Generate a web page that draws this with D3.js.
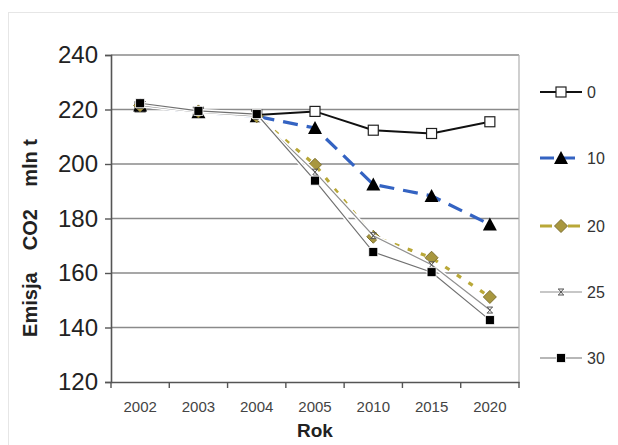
<!DOCTYPE html>
<html><head><meta charset="utf-8">
<script src="https://cdn.jsdelivr.net/npm/d3@7/dist/d3.min.js"></script>
<style>body{margin:0;background:#fff}svg{display:block;font-family:"Liberation Sans",Arial,sans-serif}</style>
</head><body><svg id="c" width="618" height="445"></svg>
<script>
const categories = ["2002","2003","2004","2005","2010","2015","2020"];
const seriesNames = ["0","10","20","25","30"];
const s0  = [221, 219, 218, 219.3, 212.4, 211.2, 215.5];
const s10 = [221.5, 219, 217.5, 213.2, 192.5, 188.3, 177.8];
const s20 = [221.5, 219.3, 217.5, 199.7, 173.3, 165.6, 151.2];
const s25 = [221.5, 219, 217.5, 197, 173.7, 163, 146.4];
const s30 = [222.3, 219.5, 218.3, 193.9, 167.7, 160.3, 142.7];
const yTicks = [120,140,160,180,200,220,240];

const svg = d3.select("#c");
const L=111, R=519, T=55, B=382;
const x = d3.scaleBand().domain(categories).range([L,R]);
const y = d3.scaleLinear().domain([120,240]).range([B,T]);

// outer frame
svg.append("rect").attr("x",8.5).attr("y",12.5).attr("width",640).attr("height",460)
  .attr("fill","none").attr("stroke","#e6e6e6");

// gridlines
svg.append("g").selectAll("line").data(yTicks.filter(d=>d>120)).join("line")
  .attr("x1",L).attr("x2",R).attr("y1",d=>y(d)).attr("y2",d=>y(d))
  .attr("stroke","#8a8a8a").attr("stroke-width",1.6);
// right border
svg.append("line").attr("x1",R).attr("x2",R).attr("y1",T).attr("y2",B)
  .attr("stroke","#b0b0b0").attr("stroke-width",1.2);

// y axis
const ya = svg.append("g").attr("transform",`translate(${L},0)`)
  .call(d3.axisLeft(y).tickValues(yTicks).tickSize(6).tickPadding(7));
ya.select(".domain").attr("stroke","#555").attr("stroke-width",1.6);
ya.selectAll(".tick line").attr("stroke","#555").attr("stroke-width",1.4);
ya.selectAll("text").attr("font-size",24).attr("fill","#222").attr("font-family","Liberation Sans, Arial, sans-serif");

// x axis
const xa = svg.append("g").attr("transform",`translate(0,${B})`)
  .call(d3.axisBottom(x).tickSize(0).tickPadding(19));
xa.select(".domain").attr("stroke","#555").attr("stroke-width",1.6);
xa.selectAll("text").attr("font-size",15).attr("fill","#444").attr("font-family","Liberation Sans, Arial, sans-serif");
svg.append("g").selectAll("line").data(categories.map((c,i)=>i).concat([categories.length])).join("line")
  .attr("x1",i=>L+i*x.step()).attr("x2",i=>L+i*x.step()).attr("y1",B).attr("y2",B+6)
  .attr("stroke","#555").attr("stroke-width",1.4);

// titles
svg.append("text").attr("x",315).attr("y",437).attr("text-anchor","middle")
  .attr("font-size",19).attr("font-weight","bold").attr("fill","#222").text("Rok");
svg.append("text").attr("transform","translate(37,238) rotate(-90)").attr("text-anchor","middle")
  .attr("font-size",20).attr("font-weight","bold").attr("fill","#222")
  .text("Emisja\u00a0\u00a0\u00a0\u00a0CO2\u00a0\u00a0\u00a0\u00a0mln t");

const styles = [
  {data:s0, color:"#111", w:2, dash:null, casing:false, marker:"wsquare"},
  {data:s10, color:"#3463c2", w:3.2, dash:"15,9", casing:false, marker:"triangle"},
  {data:s20, color:"#b9a838", w:3.2, dash:"5,9", casing:false, marker:"diamond"},
  {data:s25, color:"#8f8f8f", w:1.2, dash:null, casing:true, marker:"x"},
  {data:s30, color:"#707070", w:1.2, dash:null, casing:true, marker:"bsquare"}
];
const cx = c => x(c)+x.bandwidth()/2;
const line = d3.line().x((d,i)=>cx(categories[i])).y(d=>y(d));

function drawMarker(g, type, px, py){
  if(type==="wsquare") g.append("rect").attr("x",px-5).attr("y",py-5).attr("width",10).attr("height",10)
    .attr("fill","#fff").attr("stroke","#222").attr("stroke-width",1.2);
  else if(type==="triangle") g.append("path").attr("d",`M${px},${py-7}L${px+7},${py+6}L${px-7},${py+6}Z`).attr("fill","#000");
  else if(type==="diamond") g.append("path").attr("d",`M${px},${py-6.5}L${px+6.5},${py}L${px},${py+6.5}L${px-6.5},${py}Z`)
    .attr("fill","#a8973f").attr("stroke","#7d7030").attr("stroke-width",1);
  else if(type==="x") { g.append("path").attr("d",`M${px-2.5},${py-3}L${px+2.5},${py+3}M${px+2.5},${py-3}L${px-2.5},${py+3}M${px-3},${py-3}L${px+3},${py-3}M${px-3},${py+3}L${px+3},${py+3}`)
    .attr("stroke","#555").attr("stroke-width",1).attr("fill","none"); }
  else if(type==="bsquare") g.append("rect").attr("x",px-4.5).attr("y",py-4.5).attr("width",9).attr("height",9)
    .attr("fill","#000").attr("stroke","#fff").attr("stroke-width",0.8);
}

styles.forEach(s=>{
  const g = svg.append("g");
  if(s.casing) g.append("path").attr("d",line(s.data)).attr("fill","none").attr("stroke","#fff").attr("stroke-width",4);
  g.append("path").attr("d",line(s.data)).attr("fill","none").attr("stroke",s.color)
    .attr("stroke-width",s.w).attr("stroke-dasharray",s.dash);
  s.data.forEach((v,i)=>drawMarker(g,s.marker,cx(categories[i]),y(v)));
});

// legend
const legY = [92,158,226,292,358];
seriesNames.forEach((n,i)=>{
  const s = styles[i], g = svg.append("g"), ly = legY[i];
  g.append("line").attr("x1",540).attr("x2",582).attr("y1",ly).attr("y2",ly)
    .attr("stroke",s.color).attr("stroke-width",s.w).attr("stroke-dasharray",s.dash? (i===1?"14,7":"12,6,4,6"):null);
  drawMarker(g,s.marker,561,ly);
  g.append("text").attr("x",587).attr("y",ly).attr("dy","0.36em").attr("font-size",16).attr("fill","#333").text(n);
});
</script></body></html>
